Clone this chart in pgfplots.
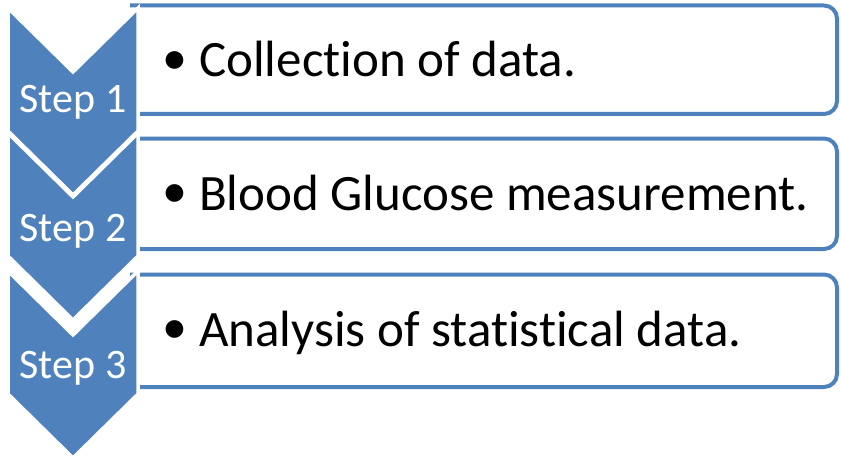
\documentclass[border=0pt]{standalone}
\usepackage{pgfplots}
\pgfplotsset{compat=1.18}
\usepackage{fontspec}
\setmainfont{Carlito}[Ligatures=NoCommon]
\definecolor{sblue}{HTML}{4F81BD}
\begin{document}
\begin{tikzpicture}
\begin{axis}[scale only axis, width=841bp, height=459bp,
  xmin=0, xmax=841, ymin=0, ymax=459, y dir=reverse,
  axis lines=none, clip=false]
\addplot[draw=none] coordinates {(0,0) (841,459)};
% boxes (right corners rounded)
\addplot[draw=sblue, line width=4bp, rounded corners=13bp] coordinates {(130,5.5) (837,5.5) (837,114) (130,114)};
\addplot[draw=sblue, line width=4bp, rounded corners=13bp] coordinates {(130,138.5) (837,138.5) (837,249) (130,249)};
\addplot[draw=sblue, line width=4bp, rounded corners=13bp] coordinates {(130,274.5) (837,274.5) (837,387) (130,387)};
% chevrons
\addplot[fill=sblue, draw=white, line width=3.5bp] coordinates {(8,8) (73,72) (138,8) (138,131) (73,195) (8,131)} -- cycle;
\addplot[fill=sblue, draw=white, line width=3.5bp] coordinates {(8,133) (73,197) (138,133) (138,256) (73,320) (8,256)} -- cycle;
\addplot[fill=sblue, draw=white, line width=3.5bp] coordinates {(8,271) (73,335) (138,271) (138,394) (73,458) (8,394)} -- cycle;
% step labels
\node[anchor=base, text=white, font=\fontsize{42bp}{50bp}\selectfont, inner sep=0pt] at (axis cs:73,112) {Step 1};
\node[anchor=base, text=white, font=\fontsize{42bp}{50bp}\selectfont, inner sep=0pt] at (axis cs:73,241) {Step 2};
\node[anchor=base, text=white, font=\fontsize{42bp}{50bp}\selectfont, inner sep=0pt] at (axis cs:73,378) {Step 3};
% bullets and texts
\node[anchor=center, font=\fontsize{50bp}{60bp}\selectfont, inner sep=0pt] at (axis cs:175,63) {•};
\node[anchor=base west, font=\fontsize{51bp}{60bp}\selectfont, inner sep=0pt] at (axis cs:199,77) {Collection of data.};
\node[anchor=center, font=\fontsize{50bp}{60bp}\selectfont, inner sep=0pt] at (axis cs:175,196) {•};
\node[anchor=base west, font=\fontsize{51bp}{60bp}\selectfont, inner sep=0pt] at (axis cs:199,210) {Blood Glucose measurement.};
\node[anchor=center, font=\fontsize{50bp}{60bp}\selectfont, inner sep=0pt] at (axis cs:175,332) {•};
\node[anchor=base west, font=\fontsize{51bp}{60bp}\selectfont, inner sep=0pt] at (axis cs:199,346) {Analysis of statistical data.};
\end{axis}
\end{tikzpicture}
\end{document}
